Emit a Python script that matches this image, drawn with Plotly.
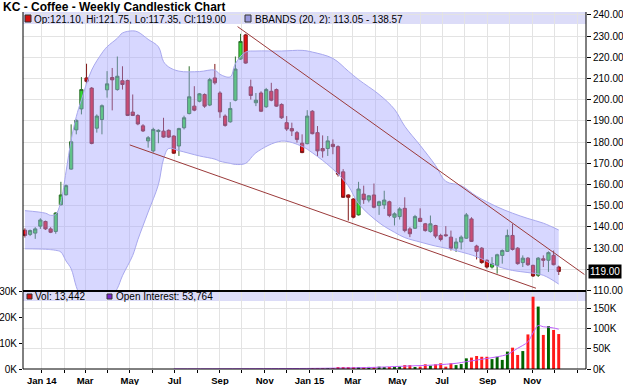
import plotly.graph_objects as go
import pandas as pd

# ---------------- data ----------------
FIRST_WEEK = "2013-12-09"

OPEN = [138.5, 136.5, 137.1, 140.4, 142.6, 139.1, 137.9, 150.5, 155.2, 167.3,
        185.8, 195.7, 210.3, 205.5, 186.6, 190.7, 204.7, 210.5, 204.8, 209.0,
        209.1, 194.2, 192.6, 187.7, 180.6, 175.9, 185.0, 185.2, 185.6, 182.9,
        178.2, 186.8, 193.5, 197.0, 199.3, 202.5, 197.5, 210.3, 203.2, 192.3,
        189.6, 199.8, 219.2, 230.6, 206.1, 198.6, 203.2, 196.7, 204.0, 204.8,
        197.8, 189.2, 186.4, 184.5, 179.5, 179.3, 194.6, 184.5, 177.0, 177.0,
        179.0, 177.9, 166.0, 155.1, 153.2, 145.7, 155.5, 152.7, 155.1, 150.1,
        150.4, 151.9, 144.6, 144.9, 148.8, 139.1, 139.4, 144.1, 141.5, 137.9,
        140.7, 136.0, 136.3, 135.2, 130.0, 132.9, 134.7, 143.8, 131.0, 130.0,
        124.3, 121.1, 121.9, 126.6, 128.5, 136.0, 130.0, 123.2, 125.3, 121.9,
        117.2, 125.0, 124.3, 126.6, 121.10]
HIGH = [139.4, 138.8, 139.9, 144.1, 143.0, 139.9, 146.9, 161.3, 160.0, 188.4,
        190.7, 210.7, 217.0, 206.0, 193.1, 197.8, 213.5, 215.0, 220.4, 215.8,
        209.5, 202.5, 193.2, 188.5, 182.9, 186.8, 186.1, 191.5, 186.0, 183.2,
        186.8, 192.5, 215.8, 206.4, 203.2, 203.0, 210.3, 216.9, 204.0, 193.1,
        198.9, 220.4, 231.1, 231.1, 209.5, 203.2, 204.0, 205.6, 208.0, 205.3,
        198.3, 192.3, 189.2, 185.3, 183.7, 195.1, 195.1, 187.6, 183.2, 182.9,
        181.3, 178.5, 167.3, 155.4, 153.5, 161.3, 159.5, 155.1, 160.5, 152.4,
        157.1, 152.4, 146.9, 149.3, 154.0, 139.9, 145.7, 148.8, 141.9, 145.4,
        141.0, 136.8, 140.4, 138.3, 134.7, 136.0, 146.6, 144.6, 131.6, 130.5,
        124.7, 125.8, 127.4, 129.4, 138.8, 141.5, 130.5, 126.6, 125.8, 122.2,
        125.8, 126.6, 128.5, 128.9, 121.75]
LOW = [135.0, 135.7, 134.4, 139.1, 138.6, 137.1, 136.8, 150.1, 154.8, 167.0,
       183.7, 193.1, 207.5, 179.0, 184.5, 183.7, 201.0, 195.0, 204.3, 204.8,
       192.3, 192.3, 188.0, 184.8, 177.4, 175.1, 179.5, 182.1, 182.0, 174.5,
       173.5, 186.0, 193.1, 194.6, 198.8, 196.2, 197.0, 207.2, 191.5, 187.3,
       189.2, 199.3, 218.9, 217.0, 200.1, 197.0, 194.2, 196.2, 199.3, 196.7,
       191.0, 185.3, 182.9, 179.8, 174.8, 179.0, 183.7, 173.5, 172.7, 173.5,
       174.3, 163.8, 153.7, 143.0, 144.1, 145.4, 150.9, 151.6, 148.8, 145.7,
       148.5, 144.6, 140.7, 143.5, 137.5, 135.2, 139.1, 142.3, 137.8, 137.3,
       134.7, 133.2, 135.4, 128.9, 128.2, 129.4, 134.4, 132.9, 124.7, 122.7,
       120.4, 120.4, 118.0, 122.7, 128.2, 128.9, 122.2, 121.1, 121.6, 116.4,
       116.4, 121.1, 118.8, 121.9, 117.35]
CLOSE = [136.0, 138.3, 139.1, 143.3, 139.1, 137.5, 146.6, 155.1, 159.5, 180.2,
         190.3, 204.8, 208.7, 179.4, 192.3, 197.2, 207.5, 209.4, 211.1, 207.2,
         192.6, 192.6, 188.6, 185.3, 182.1, 186.0, 185.6, 182.4, 182.4, 174.8,
         186.4, 191.5, 201.4, 195.1, 202.8, 197.0, 209.5, 208.0, 194.3, 187.9,
         195.9, 214.5, 227.5, 217.3, 202.0, 199.8, 194.6, 204.8, 199.8, 197.0,
         191.5, 186.2, 185.3, 181.3, 175.1, 192.3, 184.0, 175.9, 175.9, 180.6,
         177.9, 164.9, 154.0, 154.0, 144.6, 157.9, 152.9, 154.7, 149.3, 151.9,
         152.7, 145.4, 146.2, 148.5, 138.3, 136.8, 144.9, 142.6, 138.3, 141.5,
         135.7, 134.1, 135.9, 130.0, 132.9, 135.2, 145.7, 133.2, 128.5, 123.2,
         121.1, 122.7, 126.9, 128.9, 136.0, 129.4, 122.7, 125.3, 122.2, 116.9,
         125.3, 124.3, 127.9, 122.2, 119.00]

VOLUME = [
    0, 0, 0, 0, 0, 0, 0, 0, 0, 0,
    0, 0, 0, 0, 0, 0, 0, 0, 0, 0,
    0, 0, 0, 0, 0, 0, 0, 0, 0, 0,
    0, 0, 0, 0, 0, 0, 0, 0, 0, 0,
    0, 0, 0, 0, 0, 0, 0, 0, 0, 0,
    0, 0, 0, 0, 0, 0, 100, 100, 150, 200,
    300, 400, 500, 400, 500, 600, 600, 800, 700, 900,
    600, 500, 800, 1000, 1500, 1500, 600, 900, 1800, 1300,
    1800, 2200, 900, 2200, 1500, 1900, 4100, 4400, 5000, 4700,
    4700, 3800, 4700, 3500, 6700, 8200, 5400, 6900, 13300, 27800,
    24000, 13100, 16500, 15000, 13442]

# open interest samples (week index, contracts)
OI_IDX = [29, 45, 56, 62, 68, 72, 76, 80, 84, 86, 88, 90, 92, 94, 95, 96, 97, 98, 99, 100, 101, 102, 103, 104]
OI_VAL = [300, 800, 1500, 2500, 4000, 6000, 8000, 10000, 14000, 18000, 22000, 26000, 30000, 36000,
          43000, 51000, 58000, 67000, 89000, 107000, 104000, 103000, 101000, 98000]

# Bollinger band samples (week index, upper, lower)
BB_IDX = [0, 4, 5, 6, 7, 8, 9, 10, 11, 13, 15, 16, 18, 19, 21, 22, 24, 26, 27, 28, 30, 34, 37, 38, 40,
          41, 43, 45, 50, 54, 56, 60, 63, 65, 69, 72, 74, 77, 80, 82, 85, 88, 92, 95, 98, 101, 104]
BB_UPPER = [147.7, 146.5, 145.5, 146.0, 152.0, 166.0, 181.0, 192.0, 200.0, 214.0, 222.0, 225.0, 229.0,
            231.5, 232.5, 232.0, 228.5, 225.0, 218.0, 215.5, 213.5, 213.3, 214.0, 212.0, 210.8,
            217.0, 222.5, 223.0, 223.0, 223.3, 222.5, 219.5, 213.5, 209.5, 202.5, 195.5, 187.5,
            178.5, 169.0, 161.5, 159.5, 154.5, 149.5, 146.5, 144.0, 141.8, 138.57]
BB_LOWER = [129.7, 129.5, 129.3, 129.0, 128.2, 124.0, 120.3, 111.9, 106.0, 100.0, 100.0, 103.0, 111.0,
            117.0, 126.6, 134.0, 147.0, 160.0, 172.0, 177.0, 176.0, 173.5, 172.0, 171.0, 170.0,
            169.5, 170.0, 175.0, 180.5, 178.0, 175.0, 167.3, 159.4, 151.0, 142.0, 137.5, 135.0,
            132.9, 131.0, 130.0, 128.2, 126.0, 121.5, 119.5, 118.5, 117.2, 113.05]

# hand-drawn trend lines (date, price)
TREND_UP_X = ["2014-09-25", "2016-01-11"]
TREND_UP_Y = [234.5, 117.6]
TREND_LO_X = ["2014-05-01", "2015-11-06"]
TREND_LO_Y = [178.7, 111.1]

TICK_DATES = ["2014-01-01", "2014-02-01", "2014-03-01", "2014-04-01", "2014-05-01", "2014-06-01",
              "2014-07-01", "2014-08-01", "2014-09-01", "2014-10-01", "2014-11-01", "2014-12-01",
              "2015-01-01", "2015-02-01", "2015-03-01", "2015-04-01", "2015-05-01", "2015-06-01",
              "2015-07-01", "2015-08-01", "2015-09-01", "2015-10-01", "2015-11-01", "2015-12-01",
              "2016-01-01"]
TICK_TEXT = ["Jan 14", "", "Mar", "", "May", "", "Jul", "", "Sep", "", "Nov", "",
             "Jan 15", "", "Mar", "", "May", "", "Jul", "", "Sep", "", "Nov", "", ""]

PRICE_TICKS = [110, 120, 130, 140, 150, 160, 170, 180, 190, 200, 210, 220, 230, 240]
PRICE_TICK_TEXT = ["110.00", "", "130.00", "140.00", "150.00", "160.00", "170.00", "180.00",
                   "190.00", "200.00", "210.00", "220.00", "230.00", "240.00"]
VOL_TICKS = [0, 10000, 20000, 30000]
VOL_TICK_TEXT = ["0K", "10K", "20K", "30K"]
OI_TICKS = [0, 50000, 100000, 150000]
OI_TICK_TEXT = ["0K", "50K", "100K", "150K"]

# ---------------- figure ----------------
dates = pd.date_range(FIRST_WEEK, periods=len(OPEN), freq="7D")
bb_dates = [dates[i] for i in BB_IDX]
oi_dates = [dates[i] for i in OI_IDX]

W, H = 623, 385
L, R, T, B = 23, 586, 12, 369
PW, PH = R - L, B - T
def fx(px):
    return (px - L) / PW
def fy(py):
    return (B - py) / PH
split = fy(291)

FONT = "Liberation Sans, Arial, sans-serif"
GRID = "#e3e3e3"

fig = go.Figure()

# Bollinger band
fig.add_trace(go.Scatter(x=bb_dates, y=BB_LOWER, mode="lines", line=dict(color="#a8a8ee", width=1),
                         xaxis="x2", yaxis="y", hoverinfo="skip", line_shape="spline"))
fig.add_trace(go.Scatter(x=bb_dates, y=BB_UPPER, mode="lines", line=dict(color="#a8a8ee", width=1),
                         fill="tonexty", fillcolor="rgba(160,160,255,0.42)",
                         xaxis="x2", yaxis="y", hoverinfo="skip", line_shape="spline"))

# trend lines
fig.add_trace(go.Scatter(x=TREND_UP_X, y=TREND_UP_Y, mode="lines", line=dict(color="#9b3a3a", width=1),
                         xaxis="x2", yaxis="y", hoverinfo="skip"))
fig.add_trace(go.Scatter(x=TREND_LO_X, y=TREND_LO_Y, mode="lines", line=dict(color="#9b3a3a", width=1),
                         xaxis="x2", yaxis="y", hoverinfo="skip"))

# candles
fig.add_trace(go.Candlestick(
    x=dates, open=OPEN, high=HIGH, low=LOW, close=CLOSE,
    increasing=dict(fillcolor="#33dd33", line=dict(color="#2f702f", width=1)),
    decreasing=dict(fillcolor="#e81010", line=dict(color="#801818", width=1)),
    whiskerwidth=0, xaxis="x2", yaxis="y"))

# volume
vol_colors = ["#006400" if c >= o else "#ff1a1a" for o, c in zip(OPEN, CLOSE)]
fig.add_trace(go.Bar(x=dates, y=VOLUME, marker=dict(color=vol_colors, line=dict(width=0)),
                     width=4.0 * 86400000, xaxis="x", yaxis="y2", hoverinfo="skip"))
# open interest
fig.add_trace(go.Scatter(x=oi_dates, y=OI_VAL, mode="lines", line=dict(color="#c060ff", width=1),
                         xaxis="x", yaxis="y3", hoverinfo="skip", line_shape="spline"))

xrange = ["2013-12-06 08:00", "2016-01-13 05:00"]
xcommon = dict(type="date", range=xrange, tickvals=TICK_DATES, showgrid=True, gridcolor=GRID,
               gridwidth=1, showline=False, zeroline=False, rangeslider=dict(visible=False),
               automargin=False)

fig.update_layout(
    width=W, height=H, margin=dict(l=L, r=W - R, t=T, b=H - B, autoexpand=False),
    paper_bgcolor="white", plot_bgcolor="white", showlegend=False, boxgap=0.1,
    font=dict(family=FONT, size=10, color="black"),
    xaxis=dict(**xcommon, anchor="y2", ticktext=["<b>%s</b>" % t if t else "" for t in TICK_TEXT],
               ticks="outside", ticklen=3, tickcolor="black", tickfont=dict(size=9.5, family=FONT)),
    xaxis2=dict(**xcommon, anchor="y", matches="x", showticklabels=False, ticks=""),
    yaxis=dict(domain=[split, 1], anchor="x2", side="right", range=[109.8, 241.4],
               tickvals=PRICE_TICKS, ticktext=PRICE_TICK_TEXT, showgrid=True, gridcolor=GRID,
               ticks="outside", ticklen=4, tickcolor="black", zeroline=False, automargin=False,
               tickfont=dict(size=10, family=FONT)),
    yaxis2=dict(domain=[0, split], anchor="x", side="left", range=[0, 30000],
                tickvals=VOL_TICKS, ticktext=VOL_TICK_TEXT, showgrid=False, zeroline=False,
                ticks="outside", ticklen=3, tickcolor="black", automargin=False,
                tickfont=dict(size=10, family=FONT)),
    yaxis3=dict(overlaying="y2", anchor="x", side="right", range=[0, 192000],
                tickvals=OI_TICKS, ticktext=OI_TICK_TEXT, showgrid=True, gridcolor=GRID,
                zeroline=False, ticks="outside", ticklen=4, tickcolor="black", automargin=False,
                tickfont=dict(size=10, family=FONT)),
)

shapes = []
# legend strips
shapes.append(dict(type="rect", xref="paper", yref="paper", x0=0, x1=1, y0=fy(24), y1=fy(12),
                   fillcolor="#dcdcf8", line=dict(width=0), layer="below"))
shapes.append(dict(type="rect", xref="paper", yref="paper", x0=0, x1=1, y0=fy(301), y1=fy(292),
                   fillcolor="#dcdcf8", line=dict(width=0), layer="below"))
# legend swatches
for (x0, y0, x1, y1, col) in [(25, 15, 31, 22, "#d41010"), (245, 15, 251, 22, "#9999dd"),
                              (27, 294, 32, 299, "#d41010"), (107, 294, 112, 299, "#7a22cc")]:
    shapes.append(dict(type="rect", xref="paper", yref="paper", x0=fx(x0), x1=fx(x1), y0=fy(y1), y1=fy(y0),
                       fillcolor=col, line=dict(color="#333333", width=1)))
# frame lines
shapes.append(dict(type="line", xref="paper", yref="paper", x0=0, x1=0, y0=0, y1=1,
                   line=dict(color="black", width=1)))
shapes.append(dict(type="line", xref="paper", yref="paper", x0=1, x1=1, y0=0, y1=1,
                   line=dict(color="black", width=1)))
shapes.append(dict(type="line", xref="paper", yref="paper", x0=0, x1=1, y0=0, y1=0,
                   line=dict(color="black", width=1)))
shapes.append(dict(type="line", xref="paper", yref="paper", x0=0, x1=1, y0=split, y1=split,
                   line=dict(color="black", width=2)))
fig.update_layout(shapes=shapes)

ann = [
    dict(text="<b>KC - Coffee - Weekly Candlestick Chart</b>", xref="paper", yref="paper",
         x=fx(2), y=fy(0), xanchor="left", yanchor="top", showarrow=False, borderpad=0,
         height=12, valign="middle", font=dict(size=12, family=FONT, color="black")),
    dict(text="Op:121.10, Hi:121.75, Lo:117.35, Cl:119.00", xref="paper", yref="paper",
         x=fx(33), y=fy(18.9), xanchor="left", yanchor="middle", showarrow=False, borderpad=0,
         height=10, valign="middle", font=dict(size=10, family=FONT)),
    dict(text="BBANDS (20, 2): 113.05 - 138.57", xref="paper", yref="paper",
         x=fx(254), y=fy(18.9), xanchor="left", yanchor="middle", showarrow=False, borderpad=0,
         height=10, valign="middle", font=dict(size=10, family=FONT)),
    dict(text="Vol: 13,442", xref="paper", yref="paper",
         x=fx(34), y=fy(296.5), xanchor="left", yanchor="middle", showarrow=False, borderpad=0,
         font=dict(size=10, family=FONT)),
    dict(text="Open Interest: 53,764", xref="paper", yref="paper",
         x=fx(115), y=fy(296.5), xanchor="left", yanchor="middle", showarrow=False, borderpad=0,
         font=dict(size=10, family=FONT)),
    dict(text="119.00", xref="paper", yref="y", x=fx(588), y=119.0, xanchor="left", yanchor="middle",
         showarrow=False, bgcolor="black", font=dict(size=10, family=FONT, color="white"), borderpad=1),
]
fig.update_layout(annotations=ann)

fig.write_html("out.html")
